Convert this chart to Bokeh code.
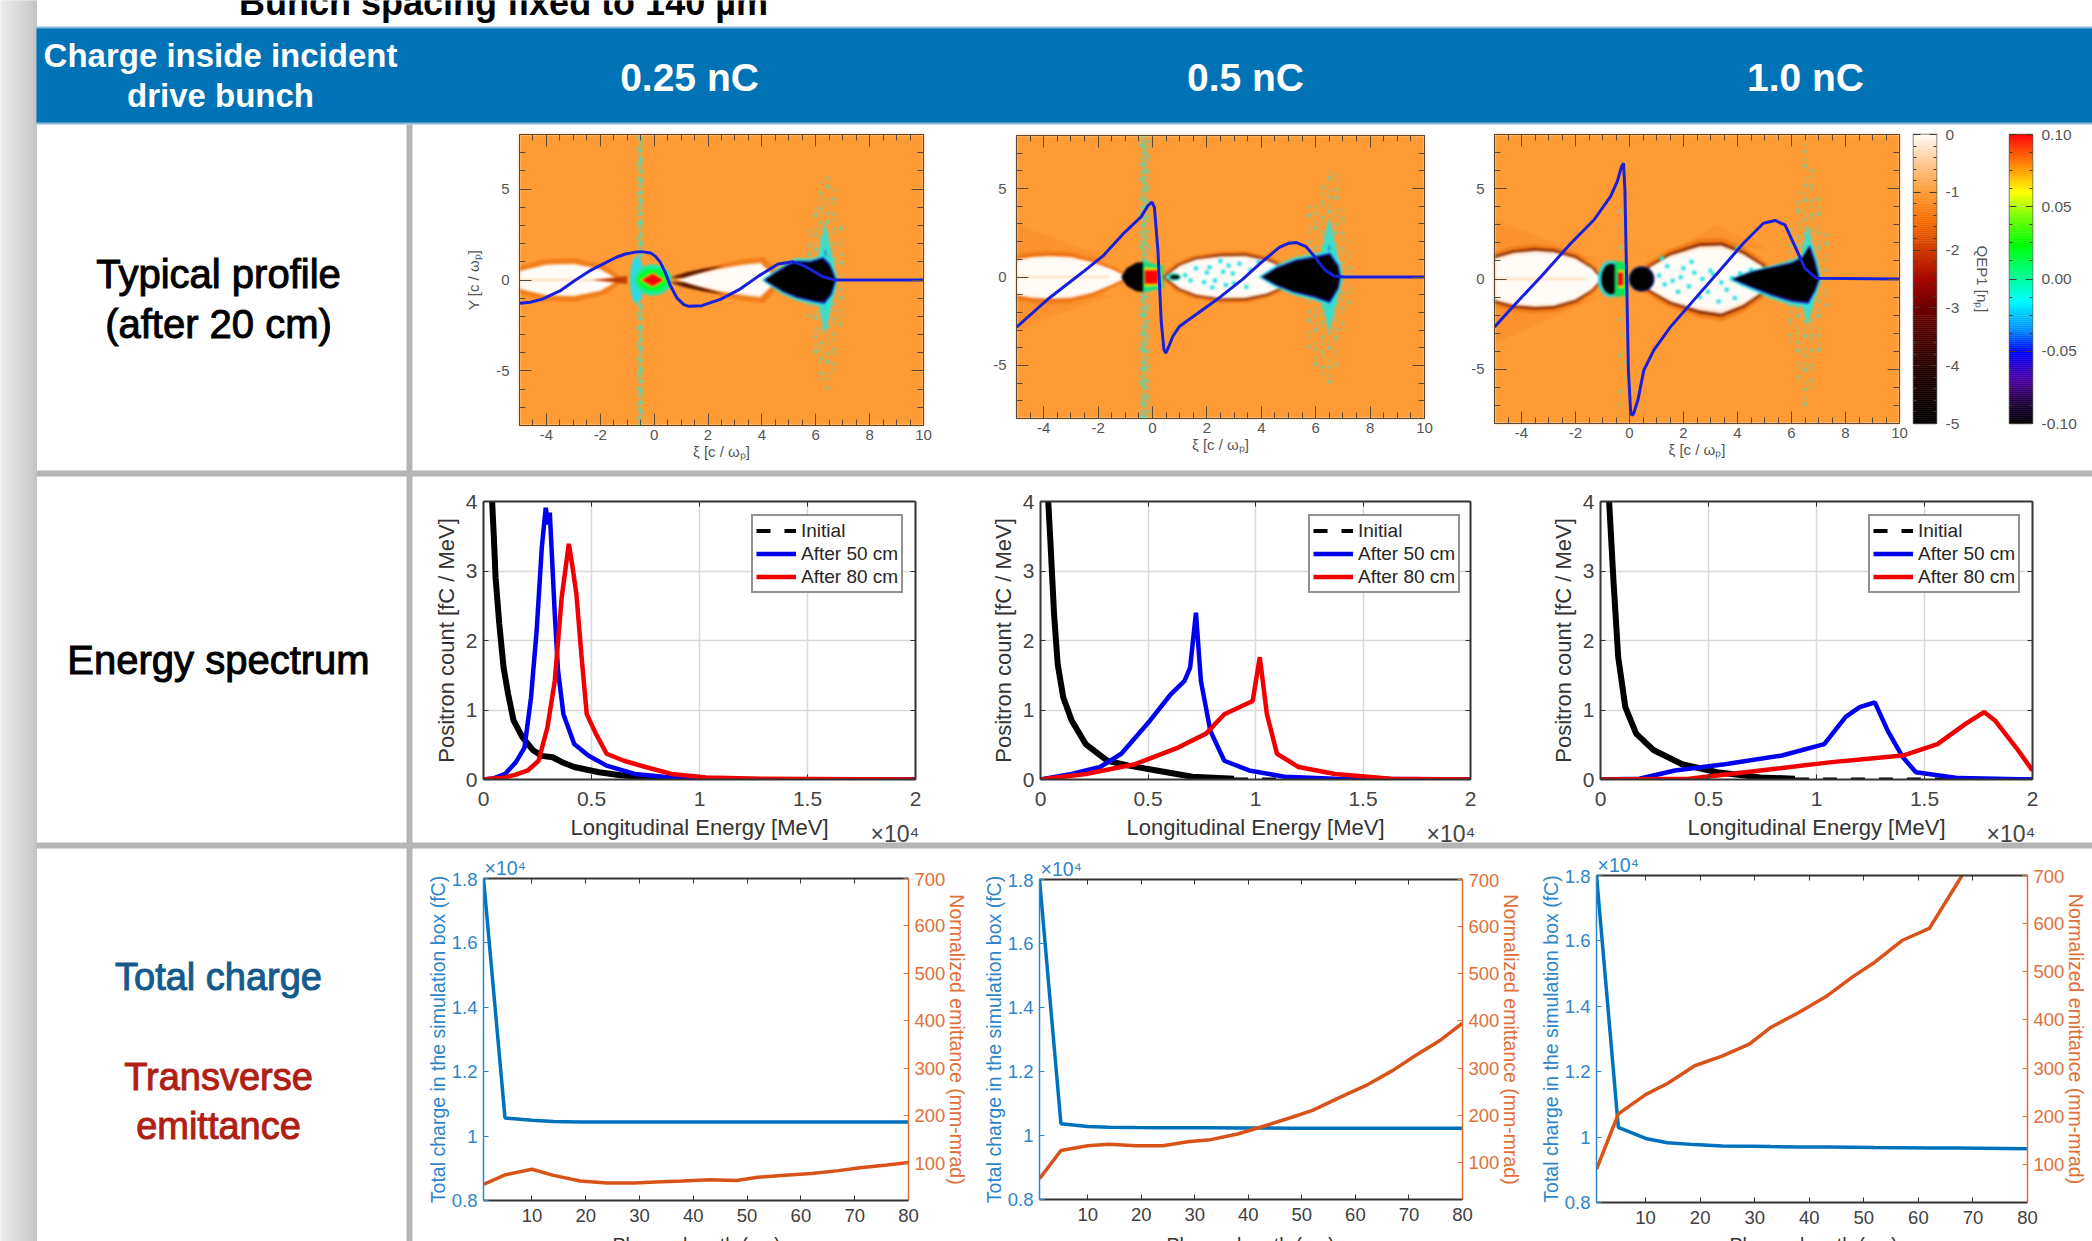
import numpy as np
from bokeh.embed import file_html
from bokeh.resources import INLINE
from bokeh.plotting import figure
from bokeh.models import (Range1d, LinearAxis, FixedTicker, Legend, LegendItem, Column)
from bokeh.core.properties import value

# ---------- table text ----------
col_titles = ["0.25 nC", "0.5 nC", "1.0 nC"]
head_left = ["Charge inside incident", "drive bunch"]
row_profile = ["Typical profile", "(after 20 cm)"]
row_spectrum = "Energy spectrum"
row_charge = "Total charge"
row_emit = ["Transverse", "emittance"]
top_text = "Bunch spacing fixed to 140 µm"

# ---------- spectra (E in 1e4 MeV, count in fC/MeV) ----------
s1_k_x = [0.03, 0.04, 0.048, 0.056, 0.073, 0.093, 0.114, 0.139, 0.18, 0.23, 0.27, 0.32, 0.37, 0.42, 0.535, 0.635, 0.78, 0.9]
s1_k_y = [4.4, 4.0, 3.48, 2.9, 2.24, 1.61, 1.23, 0.85, 0.61, 0.42, 0.34, 0.32, 0.24, 0.18, 0.105, 0.06, 0.025, 0.01]
s1_b_x = [0, 0.05, 0.1, 0.15, 0.19, 0.22, 0.246, 0.27, 0.288, 0.30, 0.307, 0.33, 0.345, 0.37, 0.42, 0.485, 0.57, 0.70, 0.87, 1.03, 1.4, 2]
s1_b_y = [0, 0.02, 0.08, 0.25, 0.46, 1.18, 2.14, 3.34, 3.91, 3.67, 3.84, 2.38, 1.57, 0.94, 0.51, 0.345, 0.2, 0.08, 0.03, 0.01, 0, 0]
s1_r_x = [0, 0.1, 0.15, 0.205, 0.255, 0.296, 0.33, 0.362, 0.395, 0.41, 0.43, 0.453, 0.478, 0.52, 0.57, 0.65, 0.75, 0.87, 1.03, 1.28, 2]
s1_r_y = [0, 0.03, 0.07, 0.13, 0.27, 0.75, 1.42, 2.62, 3.39, 3.1, 2.67, 1.8, 0.94, 0.66, 0.37, 0.27, 0.18, 0.08, 0.03, 0.01, 0]

s2_k_x = [0.03, 0.036, 0.046, 0.063, 0.08, 0.106, 0.145, 0.21, 0.31, 0.41, 0.54, 0.706, 0.9]
s2_k_y = [4.4, 4.0, 3.43, 2.38, 1.66, 1.18, 0.85, 0.51, 0.27, 0.2, 0.13, 0.04, 0.01]
s2_b_x = [0, 0.145, 0.277, 0.376, 0.51, 0.607, 0.67, 0.696, 0.723, 0.746, 0.79, 0.855, 0.97, 1.135, 1.37, 2]
s2_b_y = [0, 0.08, 0.18, 0.37, 0.85, 1.23, 1.42, 1.61, 2.4, 1.42, 0.7, 0.27, 0.13, 0.04, 0.01, 0]
s2_r_x = [0, 0.21, 0.44, 0.64, 0.77, 0.855, 0.987, 1.02, 1.053, 1.1, 1.2, 1.37, 1.63, 2]
s2_r_y = [0, 0.08, 0.22, 0.46, 0.66, 0.94, 1.13, 1.76, 0.94, 0.37, 0.18, 0.08, 0.01, 0]

s3_k_x = [0.03, 0.04, 0.06, 0.082, 0.115, 0.165, 0.247, 0.378, 0.54, 0.74, 0.9]
s3_k_y = [4.4, 4.0, 2.86, 1.76, 1.04, 0.66, 0.42, 0.22, 0.105, 0.03, 0.01]
s3_b_x = [0, 0.18, 0.345, 0.575, 0.84, 1.036, 1.135, 1.2, 1.27, 1.33, 1.4, 1.46, 1.66, 2]
s3_b_y = [0, 0.01, 0.13, 0.22, 0.345, 0.51, 0.9, 1.04, 1.11, 0.7, 0.32, 0.105, 0.02, 0]
s3_r_x = [0, 0.41, 0.74, 1.07, 1.4, 1.56, 1.69, 1.776, 1.826, 1.924, 2]
s3_r_y = [0, 0.01, 0.13, 0.25, 0.345, 0.51, 0.8, 0.97, 0.85, 0.46, 0.13]

tail_x = [0.9, 2.0]
tail_y = [0.0, 0.0]

# ---------- charge and emittance vs plasma length ----------
len_x = [1, 5, 10, 14, 19, 24, 29, 33, 38, 43, 48, 52, 57, 62, 67, 71, 76, 80]
q1 = [18000, 10560, 10490, 10450, 10440, 10440, 10440, 10440, 10440, 10440, 10440, 10440, 10440, 10440, 10440, 10440, 10440, 10440]
q2 = [18000, 10370, 10280, 10260, 10250, 10245, 10240, 10240, 10235, 10235, 10230, 10230, 10230, 10230, 10230, 10230, 10230, 10230]
q3 = [18000, 10300, 9960, 9830, 9770, 9730, 9720, 9710, 9700, 9695, 9690, 9680, 9675, 9670, 9665, 9660, 9650, 9640]
e1 = [55, 75, 87, 74, 62, 58, 58, 60, 62, 65, 63, 70, 74, 78, 84, 90, 96, 101]
e2 = [65, 125, 135, 138, 135, 135, 144, 148, 160, 177, 195, 210, 237, 263, 295, 325, 360, 395]
e3_x = [1, 5, 10, 14, 19, 24, 29, 33, 38, 43, 48, 52, 57, 62, 68]
e3 = [90, 205, 245, 268, 305, 325, 350, 385, 415, 448, 490, 520, 565, 590, 700]

# ---------- wake profiles (xi, Y in c/omega_p) ----------
c1_x = [-5, -4.6, -4.15, -3.5, -2.96, -2.4, -1.78, -1.4, -1.07, -0.75, -0.48, -0.13, 0.05, 0.23, 0.4, 0.6, 0.85, 1.1, 1.29, 1.77, 2.48, 3.19, 3.9, 4.6, 5.15, 5.55, 5.9, 6.26, 6.73, 10]
c1_y = [-1.28, -1.22, -1.05, -0.6, -0.04, 0.5, 0.97, 1.25, 1.43, 1.52, 1.56, 1.49, 1.3, 0.97, 0.45, -0.3, -1.0, -1.35, -1.45, -1.41, -1.05, -0.5, 0.24, 0.88, 1.0, 0.79, 0.5, 0.18, 0, 0]
c2_x = [-5, -3.78, -2.56, -1.82, -1.09, -0.42, -0.17, -0.02, 0.07, 0.2, 0.32, 0.42, 0.49, 0.6, 0.75, 1, 1.6, 2.46, 3.31, 3.92, 4.66, 5.02, 5.3, 5.64, 5.94, 6.31, 6.67, 7.04, 10]
c2_y = [-2.84, -1.17, 0.28, 1.19, 2.42, 3.4, 4.03, 4.24, 3.94, 1.48, -2.5, -4.11, -4.3, -3.92, -3.35, -2.78, -2.12, -1.17, -0.13, 0.72, 1.67, 1.91, 1.95, 1.72, 1.19, 0.44, 0.06, 0, 0]
c3_x = [-5, -4.26, -3.28, -2.17, -1.31, -0.7, -0.45, -0.3, -0.22, -0.17, -0.04, 0.04, 0.08, 0.14, 0.31, 0.53, 0.9, 1.52, 2.38, 3.36, 4.22, 4.96, 5.39, 5.76, 6.13, 6.5, 6.93, 10]
c3_y = [-2.65, -1.44, 0.13, 1.98, 3.28, 4.57, 5.4, 6.2, 6.41, 4.94, -5.05, -7.3, -7.54, -7.5, -6.71, -5.05, -3.94, -2.65, -1.17, 0.5, 1.98, 3.09, 3.24, 3.0, 1.8, 0.59, 0.04, 0]

lens1a_x = [-5, -4, -3, -2, -1.3, -2.0, -3, -4, -5]
lens1a_y = [0.5, 0.85, 0.9, 0.6, 0.0, -0.6, -0.9, -0.85, -0.5]
lens1b_x = [0.85, 1.6, 2.4, 3.2, 3.94, 4.6, 3.94, 3.2, 2.4, 1.6]
lens1b_y = [0, 0.35, 0.62, 0.82, 0.95, 0, -0.95, -0.82, -0.62, -0.35]
lens2a_x = [-5, -4.4, -3.8, -3, -2.2, -1.5, -0.9, -1.5, -2.2, -3, -3.8, -4.4, -5]
lens2a_y = [1.0, 1.15, 1.2, 1.15, 0.85, 0.45, 0, -0.45, -0.9, -1.2, -1.25, -1.2, -1.05]
lens2b_x = [0.45, 1.0, 1.6, 2.5, 3.4, 4.2, 4.8, 5.2, 4.8, 4.2, 3.4, 2.5, 1.6, 1.0]
lens2b_y = [0, 0.65, 1.0, 1.18, 1.2, 0.95, 0.55, 0, -0.55, -0.95, -1.2, -1.21, -1.0, -0.65]
lens3a_x = [-5, -4.3, -3.5, -2.8, -2, -1.4, -1.05, -1.4, -2, -2.8, -3.5, -4.3, -5]
lens3a_y = [1.15, 1.45, 1.57, 1.5, 1.15, 0.6, 0, -0.6, -1.15, -1.5, -1.55, -1.45, -1.17]
lens3b_x = [0.2, 0.8, 1.5, 2.6, 3.4, 4.2, 4.9, 5.3, 4.9, 4.2, 3.4, 2.6, 1.5, 0.8]
lens3b_y = [0, 0.7, 1.3, 1.82, 1.85, 1.4, 0.75, 0, -0.75, -1.45, -1.92, -1.75, -1.25, -0.65]

bunch1_x = [4.12, 4.6, 5.0, 5.3, 5.8, 6.25, 6.5, 6.72, 6.55, 6.3, 5.9, 5.3, 4.8, 4.4]
bunch1_y = [0, 0.45, 0.8, 0.97, 0.95, 1.15, 0.8, 0, -0.75, -1.2, -1.1, -0.9, -0.6, -0.25]
bunch2_x = [4.05, 4.6, 5.3, 5.9, 6.5, 6.8, 6.88, 6.8, 6.5, 5.9, 5.2, 4.6]
bunch2_y = [0, 0.5, 0.9, 1.05, 1.25, 0.6, 0, -0.6, -1.35, -1.05, -0.8, -0.45]
bunch3_x = [3.85, 4.6, 5.4, 6.0, 6.4, 6.65, 6.85, 7.0, 6.85, 6.6, 6.0, 5.3, 4.6]
bunch3_y = [0, 0.4, 0.65, 0.85, 1.15, 1.75, 0.9, 0, -0.6, -1.25, -1.15, -0.85, -0.45]

# cyan spread of the trailing bunch, seen as a tall narrow column: xi centre, half width, Y low, Y high
column1 = (6.35, 0.45, -3.0, 3.2)
column2 = (6.5, 0.5, -3.2, 3.4)
column3 = (6.6, 0.45, -2.6, 3.0)

# vertical particle streams: xi, Y low, Y high, dash
D1 = "3 4 1 7 2 5 1 11"
D2 = "1 5 2 9 1 3 2 7"
D3 = "2 8 1 4 1 10 3 6"
streams1 = [(-0.5, -8, 8, "4 3 2 2 6 4"), (-0.58, -8, 8, D2), (5.75, -2, 3, D3), (6.0, -4, 4, D1), (6.2, -5.5, 5.5, D2), (6.45, -6, 6, D3), (6.7, -5, 5, D2), (6.95, -2.5, 3, D3)]
streams2 = [(-0.3, -8, 8, "4 2 2 3 5 2"), (-0.42, -8, 8, D1), (-0.15, -8, 8, D2), (5.75, -4, 4, D3), (6.0, -5, 4.5, D1), (6.25, -5.5, 5.5, D2), (6.5, -6, 6, D1), (6.75, -5, 6, D3), (7.0, -3, 4, D2), (7.25, -1.5, 2, D3)]
streams3 = [(-0.35, -7, 4, "1 12 2 21"), (-0.15, -5.5, 3.5, "1 14 2 9"), (5.95, -3.5, 3, D2), (6.25, -5.5, 5, D3), (6.5, -7, 7.5, D1), (6.75, -6, 6.5, D2), (7.0, -4, 4.5, D1), (7.3, -1.5, 2.5, D3)]

# particles seen inside the bubbles
dots2_x = [1.2, 1.6, 1.9, 2.1, 2.3, 2.5, 2.7, 2.95, 3.2, 3.45, 1.4, 2.0, 2.6, 3.0, 3.6, 3.9, 2.2, 2.8]
dots2_y = [0.1, 0.5, -0.3, 0.55, -0.2, 0.9, -0.45, 0.2, 0.75, -0.55, -0.2, 0.25, 0.3, -0.35, 0.4, 0.85, -0.6, 0.65]
dots3_x = [1.1, 1.4, 1.6, 1.9, 2.2, 2.4, 2.7, 2.9, 3.1, 3.3, 3.6, 3.8, 4.0, 4.2, 4.5, 1.3, 1.8, 2.3, 2.6, 3.0, 3.4, 3.9, 4.1, 4.7, 1.2, 2.0]
dots3_y = [0.2, 0.7, -0.1, 0.1, -0.4, 0.35, 0.0, -0.7, 0.25, -1.25, -0.6, 0.05, 1.7, -0.3, 0.5, -0.3, -0.7, 0.95, -1.0, 0.45, -0.2, -1.05, 0.3, -0.5, 1.15, 0.6]

wake_bg = "#FF9B35"

def place(fig, fx, fy, fw, fh, ml, mr, mt, mb):
    fig.frame_width, fig.frame_height = fw, fh
    fig.width, fig.height = fw + ml + mr, fh + mt + mb
    fig.min_border_left, fig.min_border_right = ml, mr
    fig.min_border_top, fig.min_border_bottom = mt, mb
    fig.background_fill_alpha = 0
    fig.border_fill_alpha = 0
    fig.outline_line_color = None
    fig.frame_align = False
    fig.styles = {"position": "absolute", "left": f"{fx-ml}px", "top": f"{fy-mt}px"}
    return fig

def blank(ticks):
    return {t: "" for t in ticks}

FONT = "Liberation Sans"

# ---------- background figure, in page pixels ----------
bg = figure(width=2092, height=1241, x_range=Range1d(0, 2092), y_range=Range1d(1241, 0),
            output_backend="svg", toolbar_location=None, min_border=0)
bg.axis.visible = False
bg.grid.visible = False
bg.outline_line_color = None
bg.background_fill_color = "white"
bg.border_fill_color = "white"
bg.frame_align = False
bg.styles = {"position": "absolute", "left": "0px", "top": "0px"}

strip_shades = ["#EAEAEA", "#E8E8E8", "#E5E5E5", "#E2E2E2", "#DFDFDF", "#DCDCDC", "#D9D9D9", "#D6D6D6", "#D3D3D3", "#D0D0D0", "#CCCCCC", "#C6C6C6"]
strip_edges = [0, 3, 6, 9, 12, 15, 18, 21, 24, 27, 30, 33, 36]
bg.quad(left=strip_edges[:-1], right=strip_edges[1:], top=0, bottom=1241, fill_color=strip_shades, line_color=strip_shades)
bg.quad(left=[36], right=[2092], top=[26], bottom=[124], fill_color="#8DBBDC", line_color=None)
bg.quad(left=[36], right=[2092], top=[28], bottom=[122], fill_color="#0072B5", line_color=None)
bg.quad(left=[406], right=[412], top=[124], bottom=[1241], fill_color="#B5B5B5", line_color=None)
bg.quad(left=[36, 36], right=[2092, 2092], top=[470, 842], bottom=[476, 848], fill_color="#B5B5B5", line_color=None)

def txt(x, y, s, size, color="black", style="normal", baseline="middle", align="center", heavy=False):
    extra = {"text_outline_color": color} if heavy else {}
    bg.text(x=[x], y=[y], text=[s], text_font=value(FONT), text_font_size=f"{size}px", text_color=color,
            text_font_style=style, text_align=align, text_baseline=baseline, **extra)

txt(503, 2, top_text, 36, style="bold", baseline="alphabetic")
txt(220, 55, head_left[0], 33, "white", "bold")
txt(220, 95, head_left[1], 33, "white", "bold")
for cx, t in zip([689, 1245, 1805], col_titles):
    txt(cx, 77, t, 39, "white", "bold")
txt(218, 273, row_profile[0], 40, heavy=True)
txt(218, 323, row_profile[1], 40, heavy=True)
txt(218, 659, row_spectrum, 40, heavy=True)
txt(218, 976, row_charge, 38, "#145A8C", heavy=True)
txt(218, 1076, row_emit[0], 38, "#B01E14", heavy=True)
txt(218, 1125, row_emit[1], 38, "#B01E14", heavy=True)
for cx in [696, 1250, 1813]:
    txt(cx, 1244, "Plasma length (cm)", 19.5, "#333333", baseline="alphabetic")
for x0 in [870, 1426, 1986]:
    txt(x0, 833, "×10⁴", 23, "#444444", align="left")
for x0, y0 in [(484, 867), (1040, 868), (1597, 864)]:
    txt(x0, y0, "×10⁴", 19.5, "#2E86C8", align="left")

figs = [bg]

# ---------- wake-field panels ----------
def scaled(xs, ys, k, ky=None):
    ky = k if ky is None else ky
    xs, ys = np.asarray(xs, float), np.asarray(ys, float)
    cx, cy = xs.mean(), ys.mean()
    return cx + (xs - cx) * k, cy + (ys - cy) * ky

XT = [-4, -2, 0, 2, 4, 6, 8, 10]
YT = [-5, 0, 5]

def wake(fx, fy, fw, fh, curve_x, curve_y, lens_a, lens_b, bunch, streams, left_label,
         rim_a, rim_b, drive, flare, col, dots=None):
    # lower layer: the field map, softened as in the source image
    m = figure(x_range=Range1d(-5, 10), y_range=Range1d(-8, 8), output_backend="svg", toolbar_location=None)
    place(m, fx, fy, fw, fh, 10, 10, 10, 10)
    m.background_fill_color = wake_bg
    m.background_fill_alpha = 1
    m.grid.visible = False
    m.axis.visible = False
    m.styles = dict(m.styles, filter="blur(1.1px)")
    for fl in flare:
        m.patch(fl[0], fl[1], fill_color="#E86408", fill_alpha=0.16, line_color=None)
    for lens, rim in [(lens_a, rim_a), (lens_b, rim_b)]:
        for k, color, alpha in rim:
            rx, ry = scaled(lens[0], lens[1], 1.0 + (k - 1) * 0.35, k)
            m.patch(rx, ry, fill_color=color, fill_alpha=alpha, line_color=None)
        m.patch(lens[0], lens[1], fill_color="#FFE7D2", line_color=None)
        sx, sy = scaled(lens[0], lens[1], 0.985, 0.9)
        m.patch(sx, sy, fill_color="#FFFBF7", line_color=None)
    m.line([-5, -1.6], [0, 0], line_color="#FFC080", line_width=1.5, line_alpha=0.7)
    for xi, lo, hi, dash in streams:
        m.line([xi, xi], [lo, hi], line_color="#2FE6C8", line_width=3, line_dash=dash)
    if dots:
        m.scatter(dots[0], dots[1], size=4, marker="square", fill_color="#20E0E0", line_color=None)
    cx, hw, lo, hi = col
    m.patch([cx - hw, cx, cx + hw, cx], [0, hi, 0, lo], fill_color="#20E8E0", fill_alpha=0.85, line_color=None)
    m.patch([cx - hw * 0.6, cx, cx + hw * 0.6, cx], [0, hi * 0.55, 0, lo * 0.55], fill_color="#1060E0", fill_alpha=0.7, line_color=None)
    hx, hy = scaled(bunch[0], bunch[1], 1.1, 1.25)
    m.patch(hx, hy, fill_color="#30E8D8", fill_alpha=0.9, line_color=None)
    hx, hy = scaled(bunch[0], bunch[1], 1.04, 1.1)
    m.patch(hx, hy, fill_color="#1040E0", line_color=None)
    hx, hy = scaled(bunch[0], bunch[1], 1.015, 1.04)
    m.patch(hx, hy, fill_color="#300080", line_color=None)
    m.patch(bunch[0], bunch[1], fill_color="black", line_color=None)
    for kind, xs, ys, color in drive:
        if kind == "e":
            m.ellipse(x=[xs], y=[ys[0]], width=ys[1], height=ys[2], fill_color=color, line_color=None)
        else:
            m.patch(xs, ys, fill_color=color, line_color=None)
    figs.append(m)

    # upper layer: axes and the field line
    p = figure(x_range=Range1d(-5, 10), y_range=Range1d(-8, 8), output_backend="svg", toolbar_location=None)
    place(p, fx, fy, fw, fh, 70, 24, 8, 60)
    p.grid.visible = False
    bottom, left = p.xaxis[0], p.yaxis[0]
    xt = FixedTicker(ticks=XT, minor_ticks=[v / 2 for v in range(-10, 21)])
    yt = FixedTicker(ticks=YT, minor_ticks=list(range(-8, 9)))
    bottom.ticker = xt
    left.ticker = yt
    bottom.major_label_overrides = {t: str(t) for t in XT}
    left.major_label_overrides = {t: str(t) for t in YT}
    bottom.axis_label = "ξ [c / ωₚ]"
    if left_label:
        left.axis_label = "Y [c / ωₚ]"
    top = LinearAxis(ticker=xt, major_label_overrides=blank(XT))
    right = LinearAxis(ticker=yt, major_label_overrides=blank(YT))
    p.add_layout(top, "above")
    p.add_layout(right, "right")
    for a in [bottom, left, top, right]:
        a.axis_line_color = "#5A4A38"
        a.major_tick_line_color = "#5A4A38"
        a.minor_tick_line_color = "#5A4A38"
        a.major_tick_out = 0
        a.minor_tick_out = 0
        a.major_tick_in = 12
        a.minor_tick_in = 6
        a.major_label_text_color = "#555555"
        a.major_label_text_font = FONT
        a.axis_label_text_color = "#555555"
        a.axis_label_text_font = FONT
        a.axis_label_text_font_size = "15px"
        a.axis_label_text_font_style = "normal"
        a.major_label_text_font_size = "15px"
    bottom.major_label_standoff = 4
    bottom.axis_label_standoff = 0
    left.major_label_standoff = 10
    left.axis_label_standoff = 11
    top.major_label_standoff = 0
    right.major_label_standoff = 0
    p.line(curve_x, curve_y, line_color="#1820DC", line_width=3)
    figs.append(p)
    return p

# rims: (vertical scale, colour, alpha)
soft = [(1.25, "#F07810", 0.5), (1.1, "#E85A00", 0.8)]
dark = [(1.22, "#E86A08", 0.6), (1.09, "#8A2A00", 1.0)]
drive1 = [("e", -0.65, [0, 0.5, 2.6], "#30D8E0"),
          ("p", [-2.3, -1.0, -1.0], [0, 0.22, -0.22], "#C04000"),
          ("p", [0.55, 1.2, 1.8, 2.6, 1.8, 1.1], [0.12, 0.42, 0.62, 0.78, 0.42, 0.12], "#5A1800"),
          ("p", [0.55, 1.2, 1.8, 2.6, 1.8, 1.1], [-0.12, -0.42, -0.62, -0.78, -0.42, -0.12], "#5A1800"),
          ("e", -0.05, [0, 1.4, 1.7], "#20E8A0"),
          ("e", -0.05, [0, 1.15, 1.25], "#00FF30"),
          ("p", [-0.55, -0.05, 0.42, -0.05], [0, 0.42, 0, -0.42], "#FFD000"),
          ("p", [-0.45, -0.05, 0.32, -0.05], [0, 0.34, 0, -0.34], "#FF0000")]
drive2 = [("p", [-1.15, -0.95, -0.6, -0.3, -0.3, -0.6, -0.95], [0, 0.5, 0.8, 0.85, -0.85, -0.8, -0.5], "black"),
          ("p", [-0.35, 0.4, 0.4, -0.35], [0.85, 0.65, -0.65, -0.85], "#10E080"),
          ("p", [-0.3, 0.3, 0.3, -0.3], [0.55, 0.5, -0.5, -0.55], "#F0E000"),
          ("p", [-0.28, 0.2, 0.2, -0.28], [0.38, 0.38, -0.38, -0.38], "#FF0000"),
          ("e", 0.78, [0, 0.55, 0.45], "#30E0D0"),
          ("e", 0.82, [0, 0.34, 0.24], "black")]
drive3 = [("e", -0.7, [0, 0.95, 2.05], "#2EDCD8"),
          ("e", -0.68, [0, 0.72, 1.7], "black"),
          ("e", 0.45, [0, 0.95, 1.42], "#102080"),
          ("e", 0.45, [0, 0.85, 1.28], "black"),
          ("p", [-0.55, -0.1, -0.05, -0.55], [1.0, 0.9, -0.9, -1.0], "#10E060"),
          ("p", [-0.42, -0.2, -0.2, -0.42], [0.5, 0.5, -0.5, -0.5], "#F0E000"),
          ("p", [-0.42, -0.24, -0.24, -0.42], [0.36, 0.36, -0.36, -0.36], "#FF0000")]
flare2 = [([-5, -2.0, -1.2, -5], [3.0, 1.3, 1.0, 1.1], 0), ([-5, -2.0, -1.2, -5], [-3.0, -1.3, -1.0, -1.1], 0)]
flare3 = [([-5, -1.9, -1.1, -5], [3.3, 1.5, 1.0, 1.3], 0), ([-5, -1.9, -1.1, -5], [-3.6, -1.5, -1.0, -1.3], 0),
          ([1.0, 3.2, 5.2, 3.6], [1.0, 3.0, 1.6, 1.9], 0)]

wake(519, 134, 404, 291, c1_x, c1_y, (lens1a_x, lens1a_y), (lens1b_x, lens1b_y),
     (bunch1_x, bunch1_y), streams1, True, [(1.35, "#E86A08", 0.6)], [(1.35, "#E86A08", 0.6)], drive1, [], column1)
wake(1016, 135, 408, 283, c2_x, c2_y, (lens2a_x, lens2a_y), (lens2b_x, lens2b_y),
     (bunch2_x, bunch2_y), streams2, False, soft, dark, drive2, flare2, column2, (dots2_x, dots2_y))
wake(1494, 134, 405, 289, c3_x, c3_y, (lens3a_x, lens3a_y), (lens3b_x, lens3b_y),
     (bunch3_x, bunch3_y), streams3, False, dark, dark, drive3, flare3, column3, (dots3_x, dots3_y))

# ---------- colour bars ----------
charge_stops = [(-5, "#000000"), (-4, "#2A0000"), (-3, "#6E0000"), (-2.5, "#A50800"), (-2, "#CF3C00"), (-1.5, "#F56C00"),
                (-1, "#FF9B35"), (-0.5, "#FFC68E"), (0, "#FFFCF8")]
field_stops = [(-0.10, "#000000"), (-0.085, "#200040"), (-0.07, "#5000A0"), (-0.05, "#0000FF"), (-0.035, "#0090FF"),
               (-0.015, "#00FFFF"), (0.0, "#00FFA0"), (0.025, "#00FF00"), (0.045, "#80FF00"), (0.06, "#FFFF00"),
               (0.08, "#FF8000"), (0.10, "#FF0000")]

def hex_rgb(h):
    return [int(h[i:i + 2], 16) for i in (1, 3, 5)]

def cbar(fx, fy, fw, fh, stops, ticks, minor, fmt, label=None):
    lo, hi = stops[0][0], stops[-1][0]
    p = figure(x_range=Range1d(0, 1), y_range=Range1d(lo, hi), output_backend="svg", toolbar_location=None)
    place(p, fx, fy, fw, fh, 4, 2092 - fx - fw, 8, 10)
    p.grid.visible = False
    p.xaxis.visible = False
    left = p.yaxis[0]
    edges = np.linspace(lo, hi, 146)
    mids = (edges[:-1] + edges[1:]) / 2
    vals = [s[0] for s in stops]
    rgb = np.array([hex_rgb(s[1]) for s in stops], float)
    cols = ["#%02X%02X%02X" % tuple(int(np.interp(m, vals, rgb[:, i])) for i in range(3)) for m in mids]
    p.quad(left=0, right=1, bottom=edges[:-1], top=edges[1:], fill_color=cols, line_color=cols, line_width=0.5)
    p.outline_line_color = "#666666"
    p.outline_line_width = 1.5
    tk = FixedTicker(ticks=ticks, minor_ticks=minor)
    ax_r = LinearAxis(ticker=tk, major_label_overrides=fmt)
    p.add_layout(ax_r, "right")
    left.ticker = tk
    left.major_label_overrides = blank(ticks)
    left.major_label_standoff = 0
    left.axis_line_color = None
    ax_r.axis_line_color = None
    for a in [left, ax_r]:
        a.major_tick_in = 7
        a.minor_tick_in = 3
        a.major_tick_out = 0
        a.minor_tick_out = 0
        a.major_tick_line_color = "#4A3A2A"
        a.minor_tick_line_color = "#4A3A2A"
    ax_r.major_label_text_font = FONT
    ax_r.major_label_text_font_size = "15.5px"
    ax_r.major_label_text_color = "#555555"
    ax_r.major_label_standoff = 9
    if label:
        ax_r.axis_label = label
        ax_r.axis_label_text_font = FONT
        ax_r.axis_label_text_font_style = "normal"
        ax_r.axis_label_text_font_size = "15px"
        ax_r.axis_label_text_color = "#555555"
        ax_r.axis_label_standoff = 12
    figs.append(p)

cbar(1913, 134, 23, 289, charge_stops, [-5, -4, -3, -2, -1, 0], [v / 5 for v in range(-25, 1)],
     {-5: "-5", -4: "-4", -3: "-3", -2: "-2", -1: "-1", 0: "0"}, "QEP1 [nₚ]")
cbar(2009, 134, 23, 289, field_stops, [-0.10, -0.05, 0.0, 0.05, 0.10], [v / 80 for v in range(-8, 9)],
     {-0.10: "-0.10", -0.05: "-0.05", 0.0: "0.00", 0.05: "0.05", 0.10: "0.10"})

# ---------- energy spectra ----------
def spectrum(fx, fy, fw, fh, kx, ky, bx, by, rx, ry):
    p = figure(x_range=Range1d(0, 2), y_range=Range1d(0, 4), output_backend="svg", toolbar_location=None)
    place(p, fx, fy, fw, fh, 70, 24, 8, 60)
    bottom, left = p.xaxis[0], p.yaxis[0]
    p.xgrid.ticker = FixedTicker(ticks=[0.5, 1, 1.5])
    p.ygrid.ticker = FixedTicker(ticks=[1, 2, 3])
    p.xgrid.grid_line_color = "#D8D8D8"
    p.ygrid.grid_line_color = "#D8D8D8"
    p.xgrid.grid_line_width = 1.5
    p.ygrid.grid_line_width = 1.5
    XS = [0, 0.5, 1, 1.5, 2]
    YS = [0, 1, 2, 3, 4]
    xt = FixedTicker(ticks=XS, minor_ticks=[])
    yt = FixedTicker(ticks=YS, minor_ticks=[])
    bottom.ticker = xt
    left.ticker = yt
    bottom.major_label_overrides = {0: "0", 0.5: "0.5", 1: "1", 1.5: "1.5", 2: "2"}
    bottom.axis_label = "Longitudinal Energy [MeV]"
    left.axis_label = "Positron count [fC / MeV]"
    top = LinearAxis(ticker=xt, major_label_overrides=blank(XS), major_label_standoff=0)
    right = LinearAxis(ticker=yt, major_label_overrides=blank(YS), major_label_standoff=0)
    p.add_layout(top, "above")
    p.add_layout(right, "right")
    for a in [bottom, left, top, right]:
        a.axis_line_color = "#333333"
        a.axis_line_width = 2
        a.major_tick_line_color = "#333333"
        a.major_tick_out = 0
        a.major_tick_in = 5
        a.minor_tick_in = 0
        a.minor_tick_out = 0
        a.major_label_text_color = "#444444"
        a.major_label_text_font = FONT
        a.major_label_text_font_size = "21px"
        a.axis_label_text_color = "#333333"
        a.axis_label_text_font = FONT
        a.axis_label_text_font_size = "22px"
        a.axis_label_text_font_style = "normal"
        a.axis_label_standoff = 4
    bottom.major_label_standoff = 12
    bottom.axis_label_standoff = 6
    left.major_label_standoff = 6
    p.line(kx, ky, line_color="black", line_width=6)
    kt = p.line(tail_x, tail_y, line_color="black", line_width=4, line_dash="14 14")
    b = p.line(bx, by, line_color="#0000F0", line_width=4.5)
    r = p.line(rx, ry, line_color="#F00000", line_width=4.5)
    lg = Legend(items=[LegendItem(label="Initial", renderers=[kt]),
                       LegendItem(label="After 50 cm", renderers=[b]),
                       LegendItem(label="After 80 cm", renderers=[r])],
                location=(268, 186), orientation="vertical", margin=0, padding=3, spacing=0,
                glyph_width=40, glyph_height=23, label_height=23, label_standoff=5,
                label_text_font=FONT, label_text_font_size="19px", label_text_color="#262626",
                border_line_color="#262626", border_line_width=2, background_fill_color="white",
                background_fill_alpha=1)
    p.add_layout(lg, "center")
    figs.append(p)

spectrum(483, 501, 432, 278, s1_k_x, s1_k_y, s1_b_x, s1_b_y, s1_r_x, s1_r_y)
spectrum(1040, 501, 430, 278, s2_k_x, s2_k_y, s2_b_x, s2_b_y, s2_r_x, s2_r_y)
spectrum(1600, 501, 432, 278, s3_k_x, s3_k_y, s3_b_x, s3_b_y, s3_r_x, s3_r_y)

# ---------- charge / emittance ----------
BLUE, ORANGE = "#0072BD", "#D95319"
def tracks(fx, fy, fw, fh, q, ex, e):
    p = figure(x_range=Range1d(1, 80), y_range=Range1d(8000, 18000), output_backend="svg", toolbar_location=None)
    p.extra_y_ranges = {"em": Range1d(21, 700)}
    place(p, fx, fy, fw, fh, 70, 60, 6, 1241 - fy - fh)
    p.grid.visible = False
    bottom, left = p.xaxis[0], p.yaxis[0]
    XL = list(range(10, 81, 10))
    xt = FixedTicker(ticks=XL, minor_ticks=[])
    yt = FixedTicker(ticks=[8000, 10000, 12000, 14000, 16000, 18000], minor_ticks=[])
    bottom.ticker = xt
    left.ticker = yt
    left.major_label_overrides = {8000: "0.8", 10000: "1", 12000: "1.2", 14000: "1.4", 16000: "1.6", 18000: "1.8"}
    left.axis_label = "Total charge in the simulation box (fC)"
    top = LinearAxis(ticker=xt, major_label_overrides=blank(XL), major_label_standoff=0)
    right = LinearAxis(y_range_name="em", ticker=FixedTicker(ticks=list(range(100, 701, 100)), minor_ticks=[]),
                       axis_label="Normalized emittance (mm-mrad)")
    p.add_layout(top, "above")
    p.add_layout(right, "right")
    for a, c in [(bottom, "#333333"), (top, "#333333"), (left, "#2E86C8"), (right, "#E0703A")]:
        a.axis_line_color = c
        a.axis_line_width = 2 if c == "#333333" else 1.5
        a.major_tick_line_color = c
        a.major_tick_out = 0
        a.major_tick_in = 5
        a.minor_tick_in = 0
        a.minor_tick_out = 0
        a.major_label_text_color = c if c != "#333333" else "#404040"
        a.major_label_text_font = FONT
        a.major_label_text_font_size = "18.5px"
        a.axis_label_text_color = c
        a.axis_label_text_font = FONT
        a.axis_label_text_font_size = "19.5px"
        a.axis_label_text_font_style = "normal"
    left.axis_label_standoff = 0
    right.axis_label_standoff = -2
    bottom.major_label_standoff = 8
    left.major_label_standoff = 6
    right.major_label_standoff = 6
    p.line(len_x, q, line_color=BLUE, line_width=3.5)
    p.line(ex, e, line_color=ORANGE, line_width=3.5, y_range_name="em")
    figs.append(p)

tracks(483, 878, 425, 322, q1, len_x, e1)
tracks(1039, 879, 423, 320, q2, len_x, e2)
tracks(1596, 875, 431, 327, q3, e3_x, e3)

root = Column(children=figs, width=2092, height=1241, styles={"position": "relative"})
open("out.html", "w").write(file_html(root, INLINE))
